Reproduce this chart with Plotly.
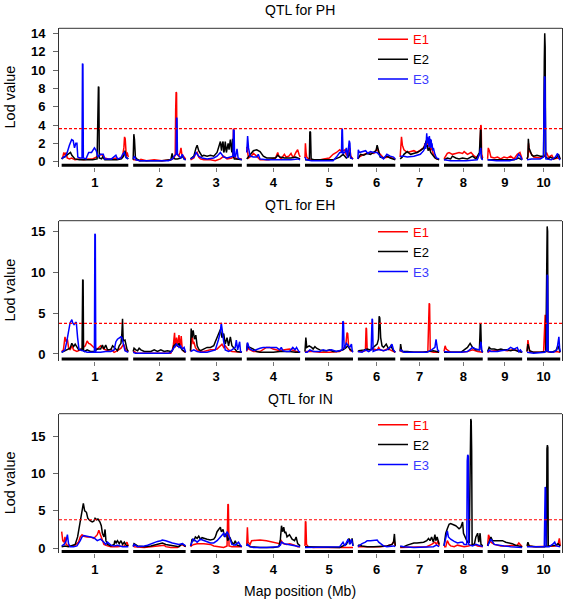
import plotly.graph_objects as go

# ---------------- data ----------------
CHROMOSOMES = ["1", "2", "3", "4", "5", "6", "7", "8", "9", "10"]
CHR_LENGTHS_MB = [301, 237, 232, 241, 217, 169, 176, 175, 156, 150]
CHR_GAP_MB = 22
ENVIRONMENTS = ["E1", "E2", "E3"]
ENV_COLORS = ["#ff0000", "#000000", "#0000ff"]
ENV_TEXT_COLORS = ["#ff0000", "#000000", "#3a3aff"]
TRAITS = ["PH", "EH", "IN"]
LOD_THRESHOLDS = [3.6, 3.75, 3.8]
Y_TICKS = [[0, 2, 4, 6, 8, 10, 12, 14], [0, 5, 10, 15], [0, 5, 10, 15]]
Y_RANGES = [[-0.55, 14.55], [-0.8, 16.3], [-0.65, 18.0]]

# LOD profiles: per chromosome, (position within chromosome in Mb, LOD)
PH_E1 = [
    [(0,0.3),(5,0.5),(10,1.0),(15,0.7),(20,1.0),(25,0.4),(35,0.3),(45,0.4),(60,0.2),(80,0.3),(100,0.2),(120,0.3),(140,0.3),(150,0.4),(165,0.6),(175,0.8),(185,0.7),(195,0.4),(210,0.3),(230,0.3),(245,0.4),(260,0.3),(275,0.6),(281,1.5),(284,2.7),(287,2.5),(290,1.6),(292,0.6),(296,1.0),(301,0.5)],
    [(0,0.2),(10,0.2),(30,0.1),(35,0.25),(60,0.1),(95,0.2),(130,0.1),(170,0.2),(185,0.4),(190,0.8),(192,5.7),(194,7.6),(196,7.5),(198,0.8),(205,0.6),(212,1.0),(216,1.5),(220,0.8),(228,0.5),(237,0.3)],
    [(0,0.2),(15,0.4),(22,0.8),(30,1.0),(37,0.5),(45,0.3),(60,0.2),(90,0.2),(112,0.1),(135,0.3),(150,0.6),(165,0.3),(187,0.4),(192,0.6),(194,3.6),(196,3.5),(198,0.5),(210,0.3),(232,0.3)],
    [(0,1.6),(3,1.2),(8,0.4),(20,0.6),(30,0.9),(45,0.6),(60,0.2),(100,0.2),(130,0.4),(140,1.0),(145,0.6),(155,0.3),(170,0.8),(178,0.5),(190,0.6),(200,0.9),(210,0.4),(222,1.0),(230,1.3),(236,0.8),(241,0.5)],
    [(0,0.4),(2,2.0),(5,1.0),(8,0.5),(20,0.2),(40,0.2),(70,0.2),(85,0.3),(110,0.4),(127,0.8),(142,1.0),(157,1.3),(165,1.1),(180,1.3),(187,0.7),(195,0.9),(202,1.5),(207,0.6),(217,0.3)],
    [(0,0.3),(5,0.5),(27,0.8),(49,1.0),(72,0.9),(87,1.4),(94,1.0),(101,0.8),(116,0.4),(139,0.5),(161,0.4),(169,0.3)],
    [(0,0.5),(3,2.0),(6,2.7),(10,1.8),(17,1.3),(32,1.0),(47,1.1),(62,1.2),(76,1.0),(91,1.3),(106,1.5),(113,2.0),(120,1.8),(128,2.3),(135,1.2),(142,1.5),(150,0.8),(157,0.5),(164,0.3),(176,0.3)],
    [(0,0.3),(8,0.6),(15,0.9),(23,1.0),(38,0.8),(53,0.9),(68,1.0),(84,0.9),(91,1.1),(106,0.8),(122,1.0),(137,0.6),(152,0.4),(162,1.0),(166,4.0),(168,3.9),(170,0.8),(175,0.4)],
    [(0,0.3),(3,1.5),(8,1.2),(15,0.5),(30,0.4),(45,0.5),(59,0.3),(74,0.5),(89,0.4),(104,0.6),(119,0.3),(134,0.8),(146,1.0),(152,0.5),(156,0.3)],
    [(0,0.3),(4,0.5),(7,2.0),(10,1.2),(15,1.0),(30,0.5),(60,0.4),(75,0.5),(80,0.6),(88,1.0),(97,0.5),(112,0.7),(120,0.3),(142,0.4),(150,0.3)],
]
PH_E2 = [
    [(0,0.3),(10,0.5),(20,0.6),(30,0.8),(40,1.0),(46,0.7),(54,0.5),(60,0.3),(80,0.2),(100,0.2),(120,0.2),(140,0.2),(160,0.3),(164,7.7),(166,8.2),(168,8.1),(170,0.4),(180,0.3),(185,0.5),(195,0.2),(220,0.2),(250,0.2),(270,0.3),(280,0.6),(286,1.2),(290,0.5),(301,0.3)],
    [(0,0.2),(3,3.0),(6,2.4),(10,0.5),(16,0.3),(30,0.1),(80,0.1),(130,0.1),(170,0.2),(176,0.9),(180,0.4),(190,0.3),(200,0.3),(215,0.4),(222,0.6),(230,0.3),(237,0.2)],
    [(0,0.3),(15,0.6),(25,1.5),(30,1.8),(37,1.2),(45,0.8),(52,0.6),(60,0.7),(75,0.6),(90,0.7),(105,0.6),(120,1.0),(127,1.5),(135,2.2),(140,1.2),(142,1.8),(147,2.2),(150,1.0),(153,1.2),(157,2.2),(162,1.0),(165,1.4),(170,2.0),(174,1.3),(180,2.4),(184,1.5),(187,1.0),(190,2.5),(193,0.6),(198,0.3),(210,0.3),(232,0.2)],
    [(0,0.3),(15,0.8),(30,1.2),(45,1.3),(60,1.1),(75,0.6),(90,0.4),(130,0.4),(140,0.7),(150,0.5),(170,0.4),(200,0.4),(220,0.5),(241,0.3)],
    [(0,0.2),(15,0.2),(20,0.3),(22,3.3),(25,3.2),(28,0.3),(40,0.2),(80,0.2),(127,0.2),(157,0.5),(172,0.8),(180,0.6),(187,0.4),(195,0.5),(202,1.0),(207,0.4),(217,0.3)],
    [(0,0.3),(5,0.5),(12,0.8),(27,0.7),(42,0.9),(57,0.8),(72,1.0),(82,1.2),(87,1.8),(92,1.2),(101,0.5),(116,0.4),(131,0.6),(146,0.4),(169,0.2)],
    [(0,0.3),(10,0.5),(17,0.8),(32,1.1),(47,0.8),(62,0.9),(76,1.0),(91,1.2),(106,1.5),(113,1.8),(117,2.3),(120,1.6),(123,1.8),(126,1.2),(132,1.5),(138,1.0),(144,0.8),(157,0.4),(176,0.2)],
    [(0,0.2),(15,0.4),(30,0.3),(38,0.6),(53,0.4),(68,0.3),(84,0.4),(106,0.3),(129,0.6),(144,0.3),(160,1.0),(165,3.5),(167,3.4),(169,0.4),(175,0.3)],
    [(0,0.2),(30,0.2),(80,0.2),(120,0.2),(140,0.4),(150,0.3),(156,0.2)],
    [(0,0.3),(4,0.6),(6,2.5),(9,1.5),(14,1.2),(22,0.7),(30,0.6),(45,0.7),(60,0.6),(75,0.6),(78,11.0),(80,14.0),(82,12.5),(84,0.5),(97,0.3),(105,0.5),(120,0.3),(135,0.5),(142,0.8),(150,0.3)],
]
PH_E3 = [
    [(0,0.3),(8,0.5),(15,0.5),(25,1.0),(35,1.8),(45,2.4),(52,2.3),(58,1.5),(64,2.0),(69,2.0),(73,0.5),(82,0.4),(92,0.4),(94,10.7),(96,10.6),(98,0.4),(110,0.3),(122,1.0),(135,1.0),(148,1.5),(156,1.2),(164,0.5),(176,0.8),(188,0.8),(194,0.3),(210,0.3),(225,0.3),(245,0.7),(252,0.3),(268,0.4),(275,0.8),(283,1.0),(292,0.4),(301,0.3)],
    [(0,0.3),(6,0.6),(12,0.2),(30,0.1),(100,0.1),(160,0.1),(178,0.3),(185,0.6),(194,0.8),(196,4.8),(198,4.7),(200,0.8),(207,0.6),(215,0.4),(222,0.8),(230,0.3),(237,0.2)],
    [(0,0.3),(15,0.5),(25,1.0),(37,0.6),(52,0.4),(75,0.3),(105,0.4),(120,0.6),(135,1.0),(150,0.5),(165,0.4),(180,0.5),(192,0.6),(194,3.5),(197,3.4),(199,0.6),(203,0.5),(210,1.4),(215,0.4),(232,0.2)],
    [(0,1.0),(4,2.8),(8,1.5),(15,0.6),(30,0.5),(45,0.5),(52,0.8),(60,0.3),(90,0.2),(150,0.2),(200,0.2),(230,0.3),(241,0.2)],
    [(0,0.5),(6,0.2),(30,0.1),(80,0.1),(127,0.1),(142,0.5),(157,1.0),(165,1.0),(167,3.6),(169,3.5),(172,0.9),(180,1.0),(187,1.5),(192,0.4),(200,2.3),(203,2.0),(206,0.4),(217,0.3)],
    [(0,0.3),(2,1.3),(6,1.0),(20,1.1),(35,1.2),(45,0.9),(57,1.1),(72,1.0),(87,1.0),(101,0.6),(116,0.3),(131,0.8),(146,0.6),(161,0.5),(169,0.3)],
    [(0,0.6),(17,0.6),(32,0.5),(62,0.6),(91,0.8),(106,1.2),(111,1.5),(113,2.0),(116,1.4),(118,2.6),(120,3.1),(122,2.0),(124,2.7),(126,2.2),(128,2.6),(130,1.6),(132,2.8),(134,2.0),(136,2.5),(138,1.5),(140,2.4),(142,1.6),(144,2.0),(147,1.2),(150,1.5),(157,0.8),(164,0.4),(176,0.3)],
    [(0,0.2),(30,0.1),(100,0.1),(150,0.2),(160,0.8),(166,1.5),(170,0.3),(175,0.2)],
    [(0,0.2),(40,0.1),(100,0.1),(130,0.3),(140,0.8),(148,0.6),(156,0.2)],
    [(0,0.2),(20,0.3),(60,0.3),(74,0.5),(79,9.3),(81,9.2),(85,0.3),(110,0.2),(128,0.5),(138,0.9),(145,0.3),(150,0.2)],
]
EH_E1 = [
    [(0,0.3),(8,0.5),(15,2.1),(20,1.5),(26,1.8),(31,0.8),(38,0.5),(46,1.0),(54,0.5),(69,0.3),(84,0.5),(100,0.8),(107,1.0),(115,1.6),(122,1.3),(130,1.2),(145,0.8),(161,0.6),(176,1.0),(191,0.6),(207,0.4),(222,0.6),(237,0.2),(252,0.4),(268,0.7),(280,1.2),(291,0.4),(301,0.3)],
    [(0,0.2),(5,0.3),(15,0.1),(60,0.1),(120,0.1),(170,0.1),(177,0.5),(182,1.2),(187,2.6),(190,0.8),(196,2.0),(200,0.9),(207,2.3),(212,0.7),(217,2.2),(222,0.5),(230,0.3),(237,0.2)],
    [(0,0.3),(3,1.0),(7,2.4),(12,1.2),(15,1.5),(22,0.8),(30,0.5),(45,0.3),(60,0.3),(90,0.5),(105,0.5),(120,0.6),(135,1.0),(142,1.2),(150,0.8),(157,1.0),(172,0.5),(187,0.3),(232,0.2)],
    [(0,0.3),(3,1.0),(8,0.6),(15,0.5),(30,0.3),(60,0.3),(74,0.5),(89,0.8),(104,0.8),(119,0.6),(149,0.4),(163,0.5),(193,0.6),(210,0.4),(225,0.3),(241,0.2)],
    [(0,0.2),(5,0.3),(37,0.3),(67,0.2),(112,0.2),(157,0.3),(172,0.6),(184,1.0),(190,2.6),(193,2.5),(197,1.0),(205,0.4),(217,0.3)],
    [(0,0.3),(19,0.3),(34,0.4),(37,3.2),(39,3.1),(42,0.5),(57,0.5),(72,0.6),(87,0.5),(94,0.8),(101,0.5),(116,0.4),(131,0.6),(146,0.5),(161,0.3),(169,0.2)],
    [(0,0.3),(3,0.8),(8,0.3),(30,0.2),(60,0.2),(100,0.2),(125,0.3),(131,6.2),(133,6.1),(136,0.3),(150,0.2),(164,0.2),(176,0.2)],
    [(0,0.3),(5,1.0),(10,0.6),(15,0.5),(30,0.2),(76,0.2),(106,0.3),(129,0.5),(152,0.3),(175,0.2)],
    [(0,0.2),(7,0.3),(30,0.4),(60,0.5),(89,0.4),(119,0.5),(140,0.4),(156,0.2)],
    [(0,0.3),(4,1.7),(8,1.0),(12,0.3),(30,0.2),(60,0.2),(75,0.3),(80,3.4),(82,4.8),(84,0.5),(90,0.3),(110,0.2),(130,0.3),(150,0.2)],
]
EH_E2 = [
    [(0,0.2),(23,0.5),(38,0.7),(46,1.3),(54,0.9),(61,1.2),(69,0.8),(77,0.5),(84,0.6),(92,0.4),(95,9.1),(97,9.0),(99,0.4),(103,0.3),(115,0.5),(130,0.3),(145,0.3),(161,0.6),(176,0.6),(184,1.1),(191,0.6),(199,1.1),(207,0.5),(222,0.5),(230,1.0),(237,0.8),(252,0.4),(260,1.0),(268,1.3),(272,2.5),(275,4.3),(278,1.6),(286,1.7),(295,0.6),(301,0.3)],
    [(0,0.3),(4,0.7),(12,0.5),(20,0.4),(27,0.7),(35,0.5),(50,0.3),(80,0.3),(95,0.5),(110,0.3),(125,0.5),(140,0.3),(155,0.4),(170,0.3),(177,0.4),(184,1.0),(192,1.2),(200,1.0),(207,1.3),(214,0.8),(222,0.5),(237,0.2)],
    [(0,0.4),(3,3.1),(7,2.0),(12,2.9),(18,1.8),(24,2.3),(30,1.0),(37,0.6),(45,0.4),(60,0.6),(75,0.8),(90,0.8),(105,1.0),(112,1.5),(120,2.0),(127,2.5),(135,3.0),(142,2.0),(150,2.5),(157,1.2),(165,2.0),(172,1.0),(180,2.1),(187,1.0),(195,0.8),(202,0.5),(210,0.3),(232,0.2)],
    [(0,0.5),(3,1.3),(8,0.8),(15,0.8),(30,0.6),(45,0.3),(60,0.2),(100,0.2),(120,0.2),(150,0.3),(193,0.3),(220,0.2),(241,0.2)],
    [(0,0.3),(4,2.0),(8,0.8),(19,1.0),(30,0.8),(37,0.6),(45,0.9),(52,0.7),(67,0.5),(82,0.4),(97,0.4),(112,0.5),(127,0.3),(142,0.3),(157,0.4),(172,0.5),(187,0.8),(195,1.0),(202,0.6),(217,0.3)],
    [(0,0.3),(5,0.4),(27,0.5),(42,0.6),(57,0.5),(72,0.8),(87,1.2),(93,1.8),(96,4.6),(99,4.4),(103,2.0),(109,1.0),(116,0.8),(128,1.2),(139,0.6),(149,1.0),(158,0.5),(169,0.2)],
    [(0,0.4),(2,1.2),(6,0.5),(10,0.3),(32,0.3),(62,0.2),(106,0.2),(135,0.3),(150,0.4),(164,0.3),(176,0.2)],
    [(0,0.2),(30,0.2),(76,0.2),(91,0.5),(106,0.8),(118,1.3),(129,0.8),(144,0.5),(160,0.5),(164,3.7),(166,3.6),(169,0.5),(175,0.2)],
    [(0,0.3),(7,0.8),(15,0.6),(30,0.6),(45,0.5),(60,0.6),(74,0.5),(89,0.5),(104,0.4),(119,0.5),(140,0.3),(156,0.2)],
    [(0,0.3),(4,1.2),(8,0.8),(12,0.4),(30,0.2),(60,0.2),(85,0.3),(89,14.8),(91,15.6),(93,15.0),(95,0.3),(110,0.2),(130,0.4),(140,1.0),(145,0.4),(150,0.2)],
]
EH_E3 = [
    [(0,0.2),(15,0.5),(23,1.5),(31,3.0),(38,3.8),(46,4.2),(50,3.8),(56,3.6),(61,3.8),(66,3.9),(72,2.0),(78,0.6),(84,0.5),(100,0.3),(115,0.2),(148,0.2),(150,14.7),(152,14.6),(154,0.2),(176,0.2),(199,0.3),(222,0.3),(237,0.5),(245,1.5),(252,1.8),(260,2.0),(268,2.1),(272,2.0),(278,1.2),(286,0.4),(301,0.2)],
    [(0,0.2),(10,0.1),(80,0.1),(160,0.1),(170,0.2),(181,0.6),(187,0.8),(196,1.2),(207,0.8),(214,1.0),(222,0.6),(230,0.8),(237,0.2)],
    [(0,0.3),(15,0.5),(30,0.3),(45,0.2),(75,0.2),(112,0.5),(127,1.8),(135,2.8),(139,3.8),(142,3.0),(144,2.5),(150,1.5),(157,0.5),(172,0.3),(187,0.5),(202,0.8),(207,1.7),(210,1.2),(213,0.5),(222,1.5),(226,0.3),(232,0.2)],
    [(0,0.4),(3,1.4),(8,1.0),(15,0.6),(30,0.4),(45,0.6),(60,0.7),(74,0.8),(104,0.8),(134,0.8),(149,0.5),(156,0.8),(163,0.4),(178,0.3),(193,0.3),(208,0.8),(218,0.5),(225,0.8),(235,0.3),(241,0.2)],
    [(0,0.2),(10,0.2),(22,0.5),(37,0.3),(67,0.3),(82,0.5),(97,0.4),(120,0.5),(142,0.3),(157,0.4),(168,0.5),(171,4.0),(174,3.9),(177,0.6),(187,1.3),(202,0.8),(210,1.2),(214,0.3),(217,0.2)],
    [(0,0.3),(19,0.2),(34,0.5),(49,0.3),(60,0.5),(64,4.3),(66,4.2),(69,0.3),(87,0.5),(101,0.5),(116,0.4),(131,0.5),(146,0.8),(154,1.2),(161,0.5),(169,0.2)],
    [(0,0.3),(3,0.5),(17,0.2),(62,0.2),(120,0.2),(142,0.5),(157,0.8),(162,1.8),(166,1.2),(169,0.5),(176,0.3)],
    [(0,0.3),(30,0.2),(76,0.2),(106,0.3),(129,0.8),(144,0.6),(160,0.5),(167,1.5),(171,0.3),(175,0.2)],
    [(0,0.2),(7,0.5),(15,0.3),(45,0.3),(60,0.4),(89,0.5),(104,0.8),(119,0.6),(134,0.8),(141,0.3),(148,0.5),(156,0.2)],
    [(0,0.2),(30,0.1),(80,0.2),(89,0.5),(91,9.7),(93,9.5),(95,0.3),(120,0.2),(135,0.5),(144,2.1),(147,0.8),(150,0.3)],
]
IN_E1 = [
    [(0,2.2),(5,1.0),(11,0.8),(15,1.5),(20,0.5),(31,0.3),(46,0.3),(61,0.4),(76,0.8),(84,1.5),(92,1.8),(100,1.6),(115,1.5),(130,1.5),(145,1.3),(161,1.8),(168,2.4),(176,1.8),(184,1.0),(191,0.5),(207,0.3),(222,0.2),(252,0.2),(283,0.3),(295,0.8),(301,0.3)],
    [(0,0.3),(5,0.2),(50,0.1),(95,0.2),(125,0.3),(140,0.4),(147,0.2),(170,0.1),(200,0.1),(218,0.5),(230,0.3),(237,0.2)],
    [(0,0.2),(3,0.3),(15,0.5),(30,0.6),(60,0.6),(90,0.5),(105,0.3),(120,0.2),(150,0.1),(165,0.3),(169,5.9),(171,5.8),(174,0.3),(187,0.2),(210,0.2),(232,0.2)],
    [(0,0.5),(3,2.8),(6,0.8),(15,0.5),(22,1.0),(45,1.1),(60,1.1),(89,1.0),(119,0.8),(134,0.7),(149,0.6),(156,1.0),(165,0.6),(180,0.5),(195,0.6),(215,0.4),(230,0.2),(241,0.2)],
    [(0,0.3),(2,3.6),(4,3.5),(7,0.5),(15,0.2),(37,0.1),(82,0.1),(127,0.1),(172,0.1),(202,0.2),(217,0.1)],
    [(0,0.2),(5,0.2),(27,0.1),(72,0.1),(101,0.2),(131,0.3),(154,0.5),(164,1.0),(169,0.3)],
    [(0,0.1),(30,0.1),(62,0.1),(120,0.2),(142,0.5),(157,0.8),(164,0.5),(172,1.0),(176,0.3)],
    [(0,0.2),(8,0.2),(15,1.0),(23,0.5),(30,0.3),(46,0.2),(61,0.4),(76,0.3),(91,0.2),(110,0.3),(123,0.4),(137,0.5),(152,0.3),(167,0.2),(175,0.2)],
    [(0,0.3),(4,1.8),(8,1.5),(15,0.8),(30,0.5),(45,0.4),(60,0.3),(89,0.3),(119,0.3),(134,0.4),(141,0.7),(148,0.4),(156,0.2)],
    [(0,0.2),(5,0.3),(30,0.2),(60,0.2),(90,0.2),(110,0.3),(130,0.3),(140,0.5),(146,1.3),(150,0.3)],
]
IN_E2 = [
    [(0,0.2),(15,0.3),(31,0.2),(46,0.3),(61,0.5),(72,1.5),(81,3.0),(87,4.5),(93,5.5),(98,6.0),(104,5.0),(112,4.8),(118,4.0),(127,3.7),(138,3.5),(145,3.6),(151,4.0),(158,3.8),(164,3.9),(173,3.5),(179,3.0),(184,2.0),(191,1.5),(196,2.5),(200,1.0),(207,0.5),(222,0.3),(237,0.5),(240,1.0),(246,0.7),(252,1.0),(260,0.6),(268,1.0),(275,0.5),(283,0.8),(291,0.4),(301,0.3)],
    [(0,0.3),(4,0.6),(20,0.3),(50,0.2),(80,0.3),(95,0.4),(110,0.5),(125,0.6),(132,0.7),(147,0.5),(162,0.4),(185,0.3),(207,0.2),(222,0.6),(237,0.2)],
    [(0,0.3),(3,0.5),(7,1.2),(15,1.0),(22,1.5),(30,1.3),(37,1.6),(45,1.2),(52,1.4),(60,1.3),(75,1.2),(90,1.1),(105,1.2),(112,1.5),(120,2.2),(127,2.5),(135,2.8),(139,2.2),(147,2.5),(153,1.5),(162,2.0),(168,1.0),(177,1.5),(187,0.8),(195,0.5),(202,1.0),(210,0.4),(225,0.3),(232,0.2)],
    [(0,0.3),(3,0.5),(15,0.2),(60,0.1),(120,0.1),(145,0.2),(152,1.2),(157,3.0),(162,2.2),(167,2.8),(172,2.0),(176,2.2),(182,1.5),(193,1.8),(205,1.2),(216,1.0),(223,1.5),(230,0.6),(241,0.3)],
    [(0,0.2),(15,0.2),(82,0.1),(157,0.1),(187,0.5),(199,1.3),(205,0.6),(213,1.3),(217,0.3)],
    [(0,0.3),(5,0.4),(19,0.3),(42,0.2),(72,0.2),(101,0.2),(131,0.3),(154,0.5),(161,0.8),(165,1.9),(167,1.0),(169,0.3)],
    [(0,0.2),(17,0.2),(32,0.4),(47,0.6),(62,0.7),(76,0.7),(91,0.8),(106,0.8),(120,1.0),(128,1.3),(135,1.0),(142,1.5),(150,0.8),(157,1.8),(161,1.0),(167,1.5),(176,0.5)],
    [(0,0.3),(5,1.2),(8,2.0),(15,2.6),(23,3.2),(30,3.3),(38,3.2),(46,3.1),(53,3.0),(61,2.8),(68,2.6),(76,2.8),(84,3.5),(88,2.0),(94,1.5),(100,1.2),(106,0.8),(114,0.8),(117,13.5),(119,15.2),(121,17.3),(123,17.0),(125,13.0),(127,0.5),(137,0.5),(144,1.5),(152,2.0),(157,0.8),(163,2.0),(167,0.5),(175,0.3)],
    [(0,0.3),(7,1.0),(15,1.5),(22,1.0),(37,1.0),(52,0.9),(67,1.0),(82,0.8),(97,0.7),(111,0.6),(126,0.4),(141,0.3),(156,0.2)],
    [(0,0.3),(4,0.8),(10,0.3),(40,0.2),(80,0.2),(88,0.3),(90,13.3),(92,13.8),(94,13.5),(96,0.3),(110,0.3),(130,0.4),(140,0.6),(150,0.3)],
]
IN_E3 = [
    [(0,0.3),(11,0.5),(20,1.0),(26,1.8),(31,0.6),(38,0.2),(54,0.2),(69,0.3),(84,1.0),(92,1.5),(100,1.7),(115,1.6),(130,1.5),(145,1.4),(161,1.0),(176,1.2),(191,0.8),(199,0.5),(207,0.8),(222,0.4),(237,0.3),(252,0.4),(275,0.2),(301,0.2)],
    [(0,0.2),(4,0.5),(20,0.2),(35,0.2),(50,0.3),(65,0.4),(80,0.6),(95,0.8),(110,0.9),(125,1.0),(132,1.1),(147,1.0),(162,0.8),(177,0.7),(192,0.6),(207,0.5),(222,0.6),(230,0.4),(237,0.3)],
    [(0,0.3),(3,0.5),(12,1.2),(22,1.0),(30,0.8),(45,1.2),(60,1.0),(75,0.8),(90,0.7),(105,0.7),(120,1.0),(135,1.5),(142,1.8),(150,2.0),(157,1.5),(165,2.2),(172,1.8),(180,1.2),(187,0.5),(202,0.4),(217,0.8),(227,0.3),(232,0.2)],
    [(0,0.3),(3,0.5),(15,0.2),(30,0.1),(90,0.1),(140,0.2),(152,0.4),(157,0.8),(170,0.6),(186,0.5),(200,0.5),(216,0.4),(230,0.3),(241,0.2)],
    [(0,0.1),(60,0.1),(127,0.1),(157,0.2),(172,0.8),(180,0.3),(195,1.2),(202,0.5),(210,1.2),(217,0.3)],
    [(0,0.2),(5,0.3),(12,0.5),(19,0.6),(34,0.8),(42,1.0),(57,1.0),(72,1.0),(87,1.1),(94,0.8),(101,0.6),(109,0.4),(116,0.3),(131,0.2),(146,0.3),(161,0.3),(169,0.2)],
    [(0,0.3),(17,0.2),(62,0.1),(120,0.1),(150,0.2),(164,0.4),(176,0.2)],
    [(0,0.3),(5,1.0),(15,2.3),(20,1.5),(30,1.2),(46,0.9),(61,0.7),(76,0.8),(84,0.8),(91,0.5),(103,0.5),(105,11.7),(107,12.5),(110,12.3),(112,0.5),(118,0.4),(129,0.3),(144,0.5),(160,0.3),(175,0.2)],
    [(0,0.3),(7,0.8),(15,1.2),(30,0.5),(45,0.4),(74,0.3),(104,0.2),(134,0.1),(156,0.1)],
    [(0,0.2),(30,0.2),(78,0.2),(82,8.2),(84,8.0),(86,0.2),(100,0.2),(115,0.5),(125,0.8),(132,0.3),(150,0.2)],
]

PROFILES = {
    "PH": [PH_E1, PH_E2, PH_E3],
    "EH": [EH_E1, EH_E2, EH_E3],
    "IN": [IN_E1, IN_E2, IN_E3],
}

# ---------------- helpers ----------------
chr_offsets = []
acc = 0
for L in CHR_LENGTHS_MB:
    chr_offsets.append(acc)
    acc += L + CHR_GAP_MB
genome_end = chr_offsets[-1] + CHR_LENGTHS_MB[-1]
chr_centers = [o + L / 2 for o, L in zip(chr_offsets, CHR_LENGTHS_MB)]


def genome_xy(profile):
    xs, ys = [], []
    for ci, pts in enumerate(profile):
        for p, v in pts:
            xs.append(chr_offsets[ci] + p)
            ys.append(v)
        xs.append(None)
        ys.append(None)
    return xs, ys


FONT = "Liberation Sans, Arial, sans-serif"
FRAME = "#333333"

# page layout (pixels) -> paper fractions
W, H = 567, 603
M_L, M_R, M_T, M_B = 59, 5, 28, 50
PLOT_H = H - M_T - M_B
panel_px = [(28.3, 166.7), (220.7, 360.5), (413.7, 553.0)]  # top, bottom


def py(px):
    return (H - M_B - px) / PLOT_H


def pxx(px):
    return (px - M_L) / (W - M_L - M_R)


domains = [[max(0, py(b)), min(1, py(t))] for t, b in panel_px]

fig = go.Figure()
legend_names = ["legend", "legend2", "legend3"]

for k, trait in enumerate(TRAITS):
    ax = "" if k == 0 else str(k + 1)
    for e, env in enumerate(ENVIRONMENTS):
        xs, ys = genome_xy(PROFILES[trait][e])
        fig.add_trace(go.Scatter(
            x=xs, y=ys, mode="lines",
            line=dict(color=ENV_COLORS[e], width=1.5),
            name='<span style="color:%s">%s</span>' % (ENV_TEXT_COLORS[e], env),
            xaxis="x" + ax, yaxis="y" + ax,
            legend=legend_names[k], hoverinfo="skip",
        ))
    # chromosome bars at the bottom
    for o, L in zip(chr_offsets, CHR_LENGTHS_MB):
        fig.add_shape(type="rect", xref="x" + ax, yref="y" + ax + " domain",
                      x0=o, x1=o + L, y0=0, y1=0.022,
                      fillcolor="black", line=dict(width=0), layer="above")
    # threshold
    fig.add_shape(type="line", xref="x" + ax + " domain", yref="y" + ax,
                  x0=0, x1=1, y0=LOD_THRESHOLDS[k], y1=LOD_THRESHOLDS[k],
                  line=dict(color="#ff0000", width=1.2, dash="3px,2px"))
    # top frame line
    fig.add_shape(type="line", xref="x" + ax + " domain", yref="y" + ax + " domain",
                  x0=0, x1=1, y0=1, y1=1, line=dict(color=FRAME, width=1))

    fig.layout["xaxis" + ax] = dict(
        domain=[0, 1], anchor="y" + ax, range=[-12, genome_end + 8],
        tickmode="array", tickvals=chr_centers, ticktext=CHROMOSOMES,
        ticks="outside", ticklen=4, tickcolor="#777", tickwidth=1,
        showline=False, showgrid=False, zeroline=False,
        tickfont=dict(family=FONT, size=13, color="black", weight="bold"),
    )
    fig.layout["yaxis" + ax] = dict(
        domain=domains[k], anchor="x" + ax, range=Y_RANGES[k],
        tickmode="array", tickvals=Y_TICKS[k],
        ticks="outside", ticklen=5, tickcolor="#666", tickwidth=1,
        ticklabelstandoff=5,
        showline=True, mirror=True, linecolor=FRAME, linewidth=1,
        showgrid=False, zeroline=False,
        tickfont=dict(family=FONT, size=13, color="black", weight="bold"),
    )
    # panel title
    fig.add_annotation(text="QTL for " + trait, xref="paper", yref="paper",
                       x=pxx(300), y=py([10, 205, 399][k]), showarrow=False,
                       font=dict(family=FONT, size=14, color="black"),
                       xanchor="center", yanchor="middle")
    fig.add_annotation(text="Lod value", xref="paper", yref="paper",
                       x=pxx(10), y=(domains[k][0] + domains[k][1]) / 2,
                       textangle=-90, showarrow=False,
                       font=dict(family=FONT, size=14.5, color="black"),
                       xanchor="center", yanchor="middle")
    fig.layout[legend_names[k]] = dict(
        x=pxx(373), y=py(panel_px[k][0] - 4), xanchor="left", yanchor="top",
        bgcolor="rgba(0,0,0,0)", borderwidth=0,
        font=dict(family=FONT, size=13, color="black"),
        tracegroupgap=0, itemclick=False, itemdoubleclick=False,
    )

fig.add_annotation(text="Map position (Mb)", xref="paper", yref="paper",
                   x=pxx(300), y=py(591), showarrow=False,
                   font=dict(family=FONT, size=14, color="black"),
                   xanchor="center", yanchor="middle")

fig.update_layout(
    width=W, height=H,
    margin=dict(l=M_L, r=M_R, t=M_T, b=M_B, autoexpand=False),
    paper_bgcolor="white", plot_bgcolor="white",
    showlegend=True,
    font=dict(family=FONT),
)

fig.write_html(
    "out.html",
    config={"displayModeBar": False},
    post_script="document.body.style.margin='0px';document.body.style.padding='0px';",
)
